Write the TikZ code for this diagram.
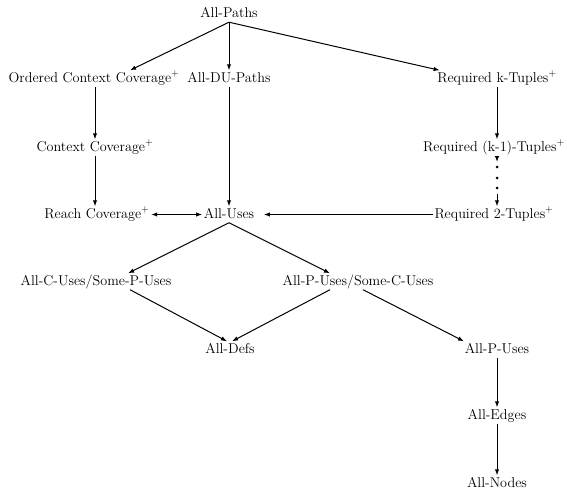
\documentclass[tikz,border=0pt]{standalone}
\usetikzlibrary{arrows.meta}
\begin{document}
\begin{tikzpicture}[x=1pt,y=-1pt,
  lbl/.style={anchor=base,inner sep=1.5pt,text height=10pt,text depth=3pt,font=\fontsize{14.2}{17}\selectfont},
  arr/.style={line width=1pt,-{Latex[length=6pt,width=4.4pt]}},
  darr/.style={line width=1pt,{Latex[length=6pt,width=4.4pt]}-{Latex[length=6pt,width=4.4pt]}}]
\useasboundingbox (0,0) rectangle (567,490);
\node[lbl] (ap) at (229,17.5) {All-Paths};
\node[lbl] (occ) at (94,82) {Ordered Context Coverage$^+$};
\node[lbl] (dup) at (229,82) {All-DU-Paths};
\node[lbl] (rkt) at (497,82) {Required k-Tuples$^+$};
\node[lbl] (cc) at (95,151) {Context Coverage$^+$};
\node[lbl] (rk1) at (494,151) {Required (k-1)-Tuples$^+$};
\node[lbl] (rc) at (97,218) {Reach Coverage$^+$};
\node[lbl] (au) at (229,218) {All-Uses};
\node[lbl] (r2) at (494,218) {Required 2-Tuples$^+$};
\node[lbl] (acu) at (96,285) {All-C-Uses/Some-P-Uses};
\node[lbl] (apu) at (358,285) {All-P-Uses/Some-C-Uses};
\node[lbl] (ad) at (230,353) {All-Defs};
\node[lbl] (apus) at (497,353) {All-P-Uses};
\node[lbl] (ae) at (497,419) {All-Edges};
\node[lbl] (an) at (497,487) {All-Nodes};
\coordinate (k1) at (497,162);
\coordinate (k2) at (497,194);
\foreach \y in {167,178,188} \fill (497,\y) circle (1.5pt);
% connectors
\draw[arr] (ap.south) -- ([xshift=36pt]occ.north);
\draw[arr] (ap.south) -- (dup.north);
\draw[arr] (ap.south) -- ([xshift=4pt]rkt.north west);
\draw[arr] (occ.south -| cc.north) -- (cc.north);
\draw[arr] (cc.south) -- (cc.south |- rc.north);
\draw[arr] (dup.south) -- (au.north);
\draw[arr] (rkt.south) -- (rkt.south |- rk1.north);
\draw[arr] (rk1.south -| k1) -- (k1);
\draw[arr] (k2) -- (k2 |- r2.north);
\draw[darr] (rc.east) -- (au.west);
\draw[arr] (r2.west) -- ([xshift=8pt]au.east);
\draw[arr] (au.south) -- ([xshift=32pt]acu.north);
\draw[arr] (au.south) -- ([xshift=-28pt]apu.north);
\draw[arr] ([xshift=34pt]acu.south) -- ([xshift=-3pt]ad.north);
\draw[arr] ([xshift=-28pt]apu.south) -- ([xshift=2pt]ad.north);
\draw[arr] ([xshift=5pt]apu.south) -- ([xshift=-33pt]apus.north);
\draw[arr] (apus.south) -- (ae.north);
\draw[arr] (ae.south) -- (an.north);
\end{tikzpicture}
\end{document}
